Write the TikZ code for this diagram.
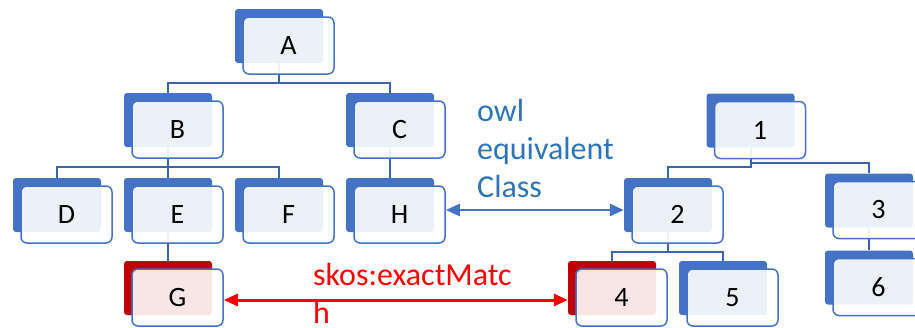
\documentclass[tikz,border=0pt]{standalone}
\usepackage{fontspec}
\setmainfont{Carlito}
\usetikzlibrary{arrows.meta}
\definecolor{boxblue}{RGB}{68,114,196}
\definecolor{boxred}{RGB}{192,0,0}
\definecolor{connblue}{RGB}{59,100,174}
\definecolor{labelblue}{RGB}{46,117,182}
\tikzset{
    backbox/.style={rectangle,rounded corners=3pt,fill=boxblue,minimum width=88pt,minimum height=54pt,inner sep=0pt},
    redbox/.style={backbox,fill=boxred},
    textbox/.style={rectangle,rounded corners=6pt,draw=boxblue,line width=1.5pt,fill=white,fill opacity=0.9,text opacity=1,
        minimum width=91pt,minimum height=57pt,inner sep=0pt,font=\fontsize{28}{34}\selectfont},
    conn/.style={draw=connblue,line width=2pt},
    equiv/.style={draw=boxblue,line width=2.7pt,{Triangle[length=14pt,width=12pt]}-{Triangle[length=14pt,width=12pt]}},
    match/.style={draw=red,line width=3pt,{Triangle[length=14pt,width=12pt]}-{Triangle[length=14pt,width=12pt]}},
    edgetext/.style={align=left,anchor=base west,inner sep=0pt,font=\fontsize{32}{38}\selectfont}
}
\begin{document}
\begin{tikzpicture}[x=1pt,y=-1pt]
        \useasboundingbox (0,0) rectangle (915,327);
        \begin{scope}[every node/.style={backbox}]
            \node (A) at (279,36) {};
            \node (B) at (168,120) {};
            \node (C) at (390,120) {};
            \node (D) at (57,205) {};
            \node (E) at (168,205) {};
            \node (F) at (279,205) {};
            \node (H) at (390,205) {};
            \node[redbox] (G) at (168,288) {};
            \node (R1) at (750.5,120.5) {};
            \node (R2) at (668,205) {};
            \node (R3) at (869,200.5) {};
            \node[redbox] (R4) at (612,288) {};
            \node (R5) at (723,288) {};
            \node (R6) at (869,277.5) {};
        \end{scope}
        \draw[conn] (A.south) -- ++(0,20) -| (B.north);
        \draw[conn] (A.south) -- ++(0,20) -| (C.north);
        \draw[conn] (B.south) -- ++(0,20) -| (D.north);
        \draw[conn] (B.south) -- (E.north);
        \draw[conn] (B.south) -- ++(0,20) -| (F.north);
        \draw[conn] (C.south) -- (H.north);
        \draw[conn] (E.south) -- (G.north);
        \draw[conn] (R1.south) -- ++(0,19) -| (R2.north);
        \draw[conn] (R1.south) -- ++(0,15) -| (R3.north);
        \draw[conn] (R2.south) -- ++(0,20) -| (R4.north);
        \draw[conn] (R2.south) -- ++(0,20) -| (R5.north);
        \draw[conn] (R3.south) -- (R6.north);
        \begin{scope}[every node/.style={textbox}]
            \node (tA) at (288.5,45.5) {A};
            \node (tB) at (177.5,129.5) {B};
            \node (tC) at (399.5,129.5) {C};
            \node (tD) at (66.5,214.5) {D};
            \node (tE) at (177.5,214.5) {E};
            \node (tF) at (288.5,214.5) {F};
            \node (tH) at (399.5,214.5) {H};
            \node (tG) at (177.5,297.5) {G};
            \node (t1) at (760,130) {1};
            \node (t2) at (677.5,214.5) {2};
            \node (t3) at (878.5,210) {3};
            \node (t4) at (621.5,297.5) {4};
            \node (t5) at (732.5,297.5) {5};
            \node (t6) at (878.5,287) {6};
        \end{scope}
        \node[edgetext,text=labelblue] (eqtext) at (477,197) {owl\\equivalent\\Class};
        \node[edgetext,text=red] (matchtext) at (313,323) {skos:exactMatc\\h};
        \draw[equiv] ([yshift=4.5pt]tH.east) -- ([yshift=-5pt]R2.west);
        \draw[match] ([yshift=-2.5pt]tG.east) -- ([yshift=-12pt]R4.west);
    \end{tikzpicture}
\end{document}
